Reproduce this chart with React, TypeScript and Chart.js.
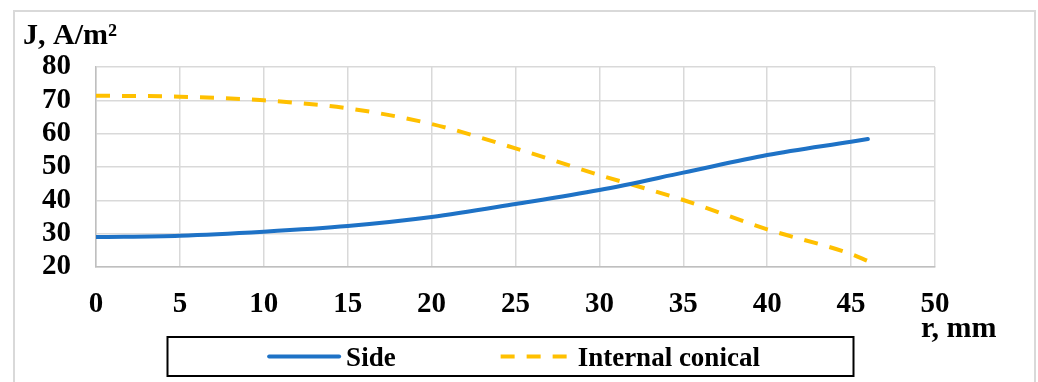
import React, { useEffect, useRef } from "react";
import { Chart, registerables } from "chart.js";

Chart.register(...registerables);

const radius = [0, 5, 10, 15, 20, 25, 30, 35, 40, 45, 46];
const sideValues = [29.0, 29.4, 30.6, 32.3, 35.0, 38.9, 43.1, 48.3, 53.6, 57.6, 58.4];
const conicalValues = [71.4, 71.1, 70.0, 67.6, 62.9, 55.6, 47.6, 40.1, 31.3, 23.9, 21.8];
const seriesNames = ["Side", "Internal conical"];
const yTitle = "J, A/m²";
const xTitle = "r, mm";

const FONT = "'Liberation Serif', 'Times New Roman', serif";
const BLUE = "#1E72C6";
const GOLD = "#FFC000";

const decorPlugin = {
  id: "decor",
  afterDraw(chart: any) {
    const ctx = chart.ctx;
    const area = chart.chartArea;
    ctx.save();
    ctx.fillStyle = "#000";
    ctx.font = `bold 30px ${FONT}`;
    ctx.textBaseline = "alphabetic";
    ctx.textAlign = "left";
    ctx.fillText(yTitle, 23, 44);
    ctx.fillText(xTitle, 921, 337);

    // legend
    const boxW = 686;
    const boxH = 39;
    const cx = (area.left + area.right) / 2 - 5;
    const bx = cx - boxW / 2;
    const by = 337;
    ctx.strokeStyle = "#000";
    ctx.lineWidth = 2;
    ctx.strokeRect(bx, by, boxW, boxH);

    ctx.font = `bold 27px ${FONT}`;
    const lineLen = 70;
    const gapText = 7;
    const gapItems = 105;
    const ds = chart.data.datasets;
    const widths = ds.map((d: any) => lineLen + gapText + ctx.measureText(d.label).width);
    const total = widths.reduce((a: number, b: number) => a + b, 0) + gapItems * (ds.length - 1);
    let x = cx - total / 2 + 4;
    const ly = by + boxH / 2;
    ds.forEach((d: any, i: number) => {
      ctx.beginPath();
      ctx.strokeStyle = d.borderColor;
      ctx.lineWidth = d.borderWidth;
      ctx.lineCap = d.borderDash && d.borderDash.length ? "butt" : "round";
      ctx.setLineDash(d.borderDash || []);
      ctx.moveTo(x, ly);
      ctx.lineTo(x + lineLen, ly);
      ctx.stroke();
      ctx.setLineDash([]);
      ctx.fillStyle = "#000";
      ctx.textBaseline = "alphabetic";
      ctx.fillText(d.label, x + lineLen + gapText, ly + 9);
      x += widths[i] + gapItems;
    });
    ctx.restore();
  },
};

export default function App() {
  const canvasRef = useRef<HTMLCanvasElement | null>(null);

  useEffect(() => {
    const canvas = canvasRef.current;
    if (!canvas) return;
    const chart = new Chart(canvas, {
      type: "line",
      data: {
        datasets: [
          {
            label: seriesNames[0],
            data: radius.map((r, i) => ({ x: r, y: sideValues[i] })),
            borderColor: BLUE,
            backgroundColor: BLUE,
            borderWidth: 4,
            pointRadius: 0,
            cubicInterpolationMode: "monotone",
            borderCapStyle: "round",
          },
          {
            label: seriesNames[1],
            data: radius.map((r, i) => ({ x: r, y: conicalValues[i] })),
            borderColor: GOLD,
            backgroundColor: GOLD,
            borderWidth: 4,
            borderDash: [14, 12],
            pointRadius: 0,
            cubicInterpolationMode: "monotone",
          },
        ],
      },
      options: {
        animation: false,
        responsive: false,
        maintainAspectRatio: false,
        layout: { padding: { left: 0, top: 67, right: 103, bottom: 0 } },
        plugins: {
          legend: { display: false },
          tooltip: { enabled: false },
          title: { display: false },
        },
        scales: {
          x: {
            type: "linear",
            min: 0,
            max: 50,
            afterFit: (s: any) => {
              s.height = 115;
            },
            ticks: {
              stepSize: 5,
              padding: 20,
              autoSkip: false,
              color: "#000",
              font: { family: FONT, weight: "bold", size: 29 },
              maxRotation: 0,
            },
            grid: { color: "#d9d9d9", lineWidth: 1.5, drawTicks: false },
            border: { color: "#bfbfbf", width: 1.5 },
          },
          y: {
            min: 20,
            max: 80,
            afterFit: (s: any) => {
              s.width = 96;
            },
            ticks: {
              stepSize: 10,
              padding: 25,
              autoSkip: false,
              color: "#000",
              font: { family: FONT, weight: "bold", size: 29 },
            },
            grid: { color: "#d9d9d9", lineWidth: 1.5, drawTicks: false },
            border: { color: "#bfbfbf", width: 1.5 },
          },
        },
      },
      plugins: [decorPlugin],
    } as any);
    return () => chart.destroy();
  }, []);

  return (
    <div style={{ position: "fixed", left: 0, top: 0, width: 1038, height: 382, background: "#fff", overflow: "hidden" }}>
      <canvas ref={canvasRef} width={1038} height={382} style={{ position: "absolute", left: 0, top: 0 }} />
      <div
        style={{
          position: "absolute",
          left: 13,
          top: 10,
          width: 1023,
          height: 400,
          border: "2px solid #d9d9d9",
          boxSizing: "border-box",
          pointerEvents: "none",
        }}
      />
    </div>
  );
}
